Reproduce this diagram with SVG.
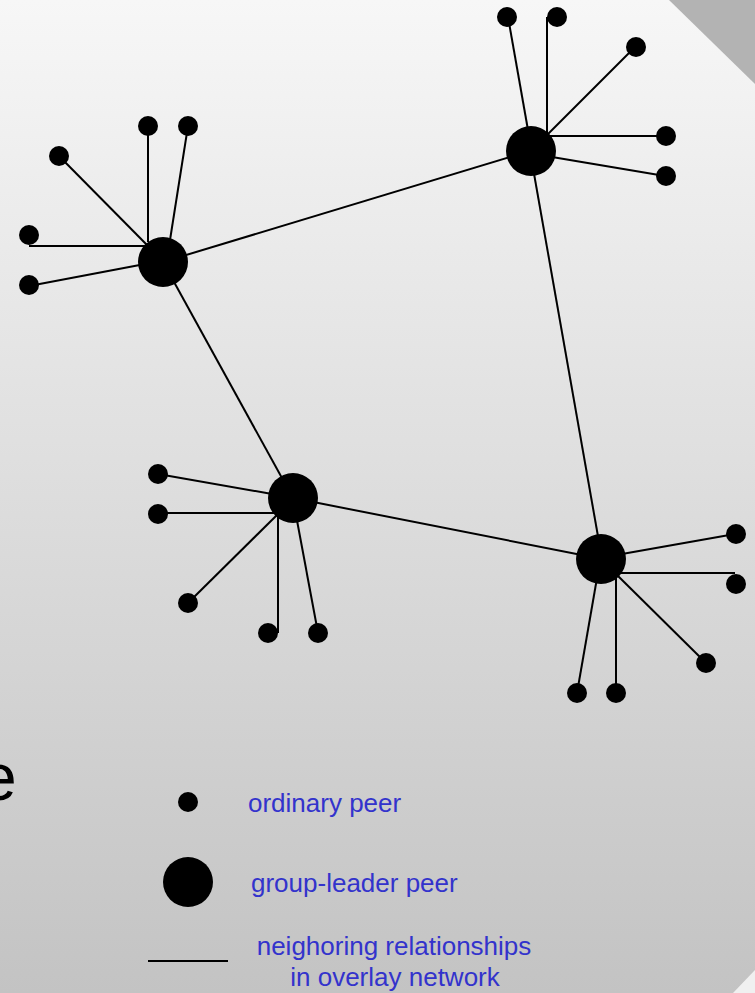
<svg xmlns="http://www.w3.org/2000/svg" width="755" height="993" viewBox="0 0 755 993">
<defs>
<linearGradient id="bg" x1="0" y1="0" x2="0" y2="1">
<stop offset="0" stop-color="#f7f7f7"/>
<stop offset="1" stop-color="#c3c3c3"/>
</linearGradient>
</defs>
<style>
.ln{stroke:#000;stroke-width:2;fill:none}
.peer{fill:#000}
.lbl{font-family:"Liberation Sans",Arial,sans-serif;font-size:26px;fill:#3333cc}
</style>
<rect x="0" y="0" width="755" height="993" fill="url(#bg)"/>
<polygon points="669,0 755,0 755,84" fill="#b3b3b3"/>
<polygon points="733,993 755,993 755,970" fill="#f0f0f0"/>
<text x="-20" y="800" font-family="Liberation Sans,Arial,sans-serif" font-size="66" fill="#000">e</text>
<g id="connectors">
<line class="ln" x1="163" y1="262" x2="530" y2="151"/>
<line class="ln" x1="163" y1="262" x2="293" y2="498"/>
<line class="ln" x1="530" y1="151" x2="602" y2="559"/>
<line class="ln" x1="293" y1="498" x2="602" y2="559"/>
<line class="ln" x1="148" y1="126" x2="148" y2="242"/>
<line class="ln" x1="188" y1="126" x2="170" y2="240"/>
<line class="ln" x1="59" y1="156" x2="148" y2="246"/>
<line class="ln" x1="29" y1="246" x2="148" y2="246"/>
<line class="ln" x1="29" y1="286" x2="145" y2="264"/>
<line class="ln" x1="508" y1="17" x2="528" y2="130"/>
<line class="ln" x1="547" y1="17" x2="547" y2="134"/>
<line class="ln" x1="635" y1="47" x2="547" y2="135"/>
<line class="ln" x1="548" y1="136" x2="665" y2="136"/>
<line class="ln" x1="552" y1="157" x2="665" y2="176"/>
<line class="ln" x1="158" y1="474" x2="272" y2="494"/>
<line class="ln" x1="158" y1="513" x2="275" y2="513"/>
<line class="ln" x1="188" y1="603" x2="278" y2="514"/>
<line class="ln" x1="278" y1="514" x2="278" y2="633"/>
<line class="ln" x1="296" y1="515" x2="318" y2="633"/>
<line class="ln" x1="622" y1="554" x2="735" y2="534"/>
<line class="ln" x1="618" y1="573" x2="735" y2="573"/>
<line class="ln" x1="617" y1="575" x2="706" y2="663"/>
<line class="ln" x1="616" y1="575" x2="616" y2="693"/>
<line class="ln" x1="597" y1="578" x2="577" y2="693"/>
<line class="ln" x1="148" y1="961" x2="228" y2="961"/>
</g>
<g id="leader-a"><circle class="peer" cx="163" cy="262" r="25"/></g>
<g id="leader-b"><circle class="peer" cx="531" cy="151" r="25"/></g>
<g id="leader-c"><circle class="peer" cx="293" cy="498" r="25"/></g>
<g id="leader-d"><circle class="peer" cx="601" cy="559" r="25"/></g>
<g id="peers-a">
<circle class="peer" cx="148" cy="126" r="10"/>
<circle class="peer" cx="188" cy="126" r="10"/>
<circle class="peer" cx="59" cy="156" r="10"/>
<circle class="peer" cx="29" cy="235" r="10"/>
<circle class="peer" cx="29" cy="285" r="10"/>
</g>
<g id="peers-b">
<circle class="peer" cx="507" cy="17" r="10"/>
<circle class="peer" cx="557" cy="17" r="10"/>
<circle class="peer" cx="636" cy="47" r="10"/>
<circle class="peer" cx="666" cy="136" r="10"/>
<circle class="peer" cx="666" cy="176" r="10"/>
</g>
<g id="peers-c">
<circle class="peer" cx="158" cy="474" r="10"/>
<circle class="peer" cx="158" cy="514" r="10"/>
<circle class="peer" cx="188" cy="603" r="10"/>
<circle class="peer" cx="268" cy="633" r="10"/>
<circle class="peer" cx="318" cy="633" r="10"/>
</g>
<g id="peers-d">
<circle class="peer" cx="736" cy="534" r="10"/>
<circle class="peer" cx="736" cy="584" r="10"/>
<circle class="peer" cx="706" cy="663" r="10"/>
<circle class="peer" cx="577" cy="693" r="10"/>
<circle class="peer" cx="616" cy="693" r="10"/>
</g>
<g id="legend-ordinary">
<circle class="peer" cx="188" cy="802" r="10"/>
<text class="lbl" x="248" y="812">ordinary peer</text>
</g>
<g id="legend-leader">
<circle class="peer" cx="188" cy="882" r="25"/>
<text class="lbl" x="251" y="892">group-leader peer</text>
</g>
<g id="legend-link">
<text class="lbl" x="394" y="955" text-anchor="middle">neighoring relationships</text>
<text class="lbl" x="395" y="986" text-anchor="middle">in overlay network</text>
</g>
</svg>
